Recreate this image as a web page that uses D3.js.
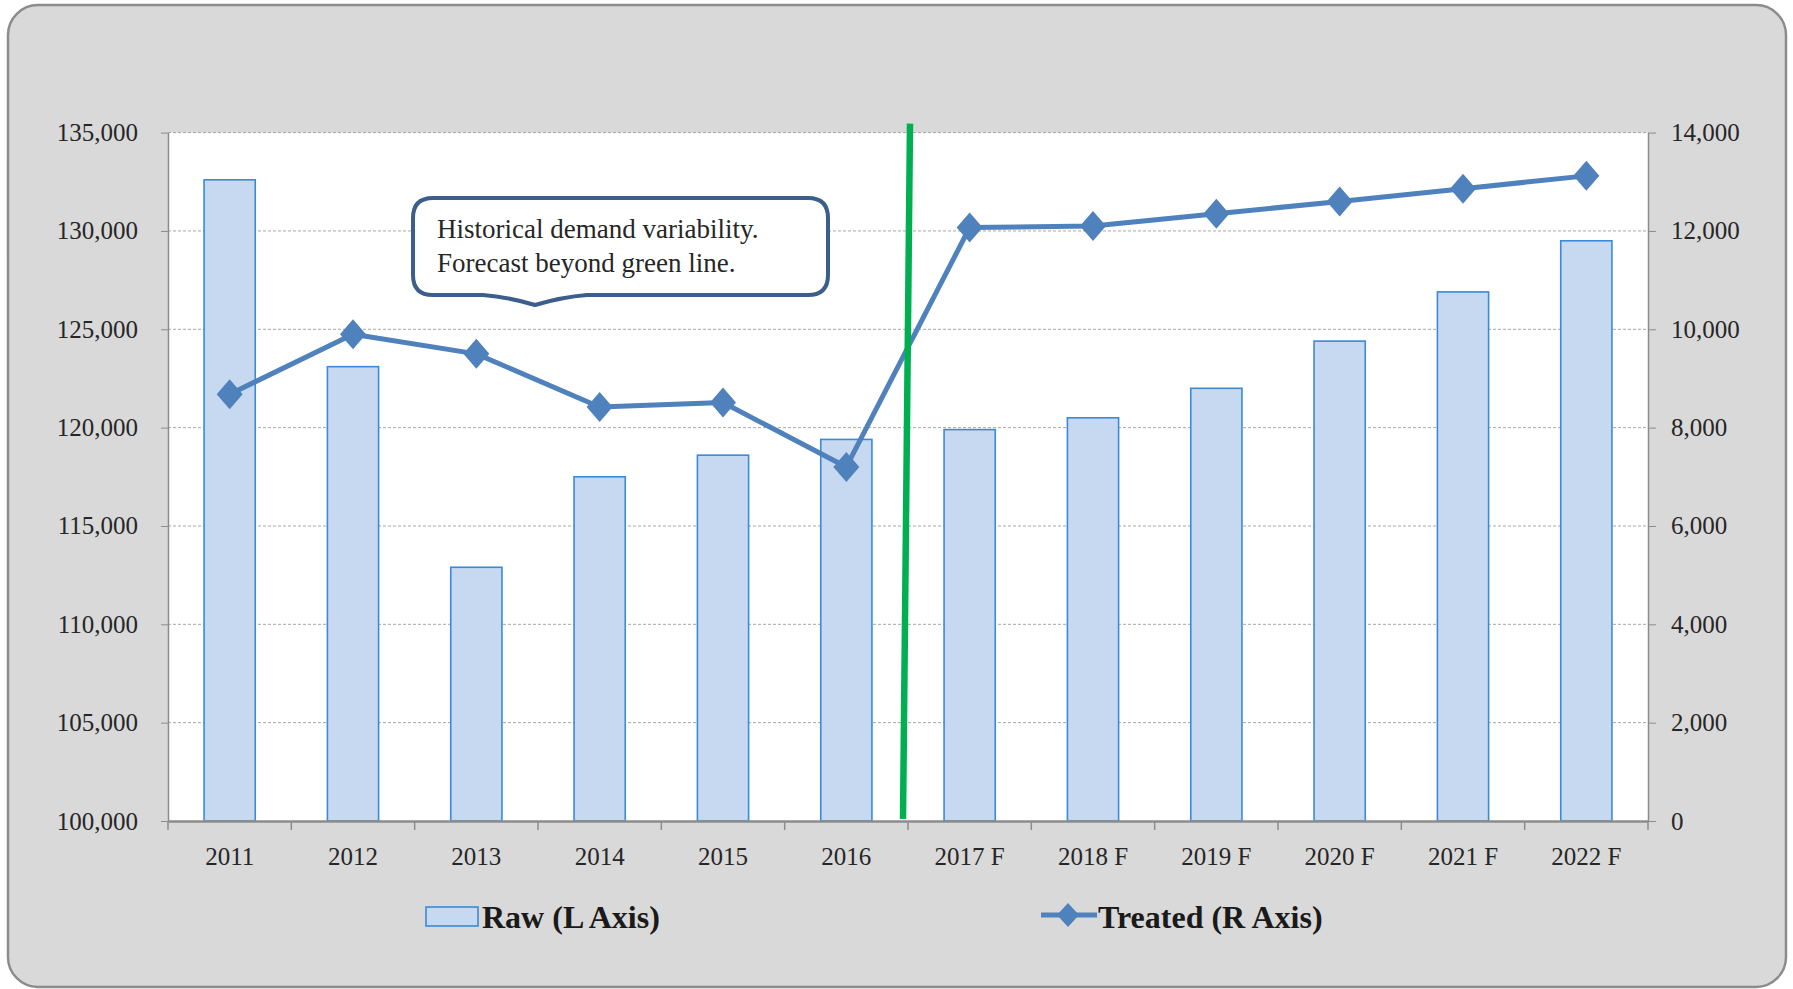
<!DOCTYPE html>
<html>
<head>
    <meta charset="UTF-8">
    <title>Raw vs Treated</title>
    <style>
        body { margin: 0; background: #fff; }
        .axis text { font-family: "Liberation Serif", serif; font-size: 25px; fill: #262626; }
        .axis path, .axis line { stroke: #8c8c8c; }
        .grid line { stroke: #a6a6a6; stroke-width: 1px; stroke-dasharray: 3,2; }
        .bar { fill: #c6d9f0; stroke: #3a8ad8; stroke-width: 1.6px; }
        .treated { fill: none; stroke: #4f81bd; stroke-width: 5px; stroke-linejoin: round; }
        .dot { fill: #4f81bd; }
        .note { font-family: "Liberation Serif", serif; font-size: 27px; fill: #262626; }
        .legend text { font-family: "Liberation Serif", serif; font-size: 32px; font-weight: bold; fill: #1a1a1a; }
    </style>
</head>
<body>
<svg width="1793" height="989"></svg>
<script src="https://cdn.jsdelivr.net/npm/d3@7"></script>
<script>

    // data
    var years = ["2011", "2012", "2013", "2014", "2015", "2016",
        "2017 F", "2018 F", "2019 F", "2020 F", "2021 F", "2022 F"];
    var raw = [132600, 123100, 112900, 117500, 118600, 119400,
        119900, 120500, 122000, 124400, 126900, 129500];
    var treated = [8680, 9900, 9500, 8420, 8510, 7200,
        12070, 12100, 12350, 12600, 12860, 13120];
    var leftTicks = [100000, 105000, 110000, 115000, 120000, 125000, 130000, 135000];
    var rightTicks = [0, 2000, 4000, 6000, 8000, 10000, 12000, 14000];
    var noteLines = ["Historical demand variability.", "Forecast beyond green line."];
    var legendLabels = ["Raw (L Axis)", "Treated (R Axis)"];
    var forecastStart = "2017 F";

    var svg = d3.select("svg");
    var plot = {left: 168, right: 1648, top: 132.6, bottom: 821};

    // outer frame
    svg.append("rect")
            .attr("x", 8).attr("y", 5)
            .attr("width", 1778).attr("height", 982)
            .attr("rx", 30).attr("ry", 30)
            .attr("fill", "#d9d9d9")
            .attr("stroke", "#8c8c8c")
            .attr("stroke-width", 2.5);

    // white plot area
    svg.append("rect")
            .attr("x", plot.left).attr("y", plot.top)
            .attr("width", plot.right - plot.left)
            .attr("height", plot.bottom - plot.top)
            .attr("fill", "#fff");

    // scales
    var x = d3.scaleBand()
            .domain(years)
            .range([plot.left, plot.right]);
    var yL = d3.scaleLinear()
            .domain([100000, 135000])
            .range([plot.bottom, plot.top]);
    var yR = d3.scaleLinear()
            .domain([0, 14000])
            .range([plot.bottom, plot.top]);

    // dashed grid
    svg.append("g")
            .attr("class", "grid")
            .selectAll("line")
            .data(leftTicks.slice(1))
            .enter().append("line")
            .attr("x1", plot.left).attr("x2", plot.right)
            .attr("y1", function (d) { return yL(d); })
            .attr("y2", function (d) { return yL(d); });

    // bars
    var barW = x.bandwidth() * 0.415;
    svg.append("g")
            .selectAll("rect")
            .data(years)
            .enter().append("rect")
            .attr("class", "bar")
            .attr("x", function (d) { return x(d) + (x.bandwidth() - barW) / 2; })
            .attr("y", function (d, i) { return yL(raw[i]); })
            .attr("width", barW)
            .attr("height", function (d, i) { return yL(100000) - yL(raw[i]); });

    // left axis
    svg.append("g")
            .attr("class", "axis axis--left")
            .attr("transform", "translate(" + plot.left + ",0)")
            .call(d3.axisLeft(yL).tickValues(leftTicks).tickFormat(d3.format(","))
                    .tickSizeInner(7).tickSizeOuter(0).tickPadding(23))
            .call(function (g) { g.select(".domain").attr("stroke-width", 1.5); });

    // right axis
    svg.append("g")
            .attr("class", "axis axis--right")
            .attr("transform", "translate(" + plot.right + ",0)")
            .call(d3.axisRight(yR).tickValues(rightTicks).tickFormat(d3.format(","))
                    .tickSizeInner(8).tickSizeOuter(0).tickPadding(15))
            .call(function (g) { g.select(".domain").attr("stroke-width", 1.5); });

    // bottom axis, labels in band centres, ticks on band edges
    var xAxis = svg.append("g")
            .attr("class", "axis axis--x")
            .attr("transform", "translate(0," + plot.bottom + ")")
            .call(d3.axisBottom(x).tickSize(0).tickPadding(0));
    xAxis.select(".domain").attr("stroke-width", 2.5);
    xAxis.selectAll("text").attr("y", 44).attr("dy", 0);
    xAxis.selectAll(".edge")
            .data(years.concat(["end"]))
            .enter().append("line")
            .attr("class", "edge")
            .attr("x1", function (d) { return d === "end" ? plot.right : x(d); })
            .attr("x2", function (d) { return d === "end" ? plot.right : x(d); })
            .attr("y1", 0).attr("y2", 9)
            .attr("stroke-width", 1.5);

    // treated line with diamonds
    var line = d3.line()
            .x(function (d, i) { return x(years[i]) + x.bandwidth() / 2; })
            .y(function (d) { return yR(d); });
    svg.append("path")
            .datum(treated)
            .attr("class", "treated")
            .attr("d", line);

    var diamond = "M0,-15L13,0L0,15L-13,0Z";
    svg.append("g")
            .selectAll("path")
            .data(treated)
            .enter().append("path")
            .attr("class", "dot")
            .attr("d", diamond)
            .attr("transform", function (d, i) {
                return "translate(" + (x(years[i]) + x.bandwidth() / 2) + "," + yR(d) + ")";
            });

    // green divider between history and forecast (drawn over the line)
    var gx = x(forecastStart);
    svg.append("line")
            .attr("x1", gx + 2).attr("y1", plot.top - 9)
            .attr("x2", gx - 5).attr("y2", plot.bottom - 2)
            .attr("stroke", "#00b050")
            .attr("stroke-width", 6.5);

    // callout box
    var bx0 = 413, by0 = 198, bx1 = 828, by1 = 295, r = 20;
    var callout = "M" + (bx0 + r) + "," + by0 +
            "H" + (bx1 - r) + "Q" + bx1 + "," + by0 + " " + bx1 + "," + (by0 + r) +
            "V" + (by1 - r) + "Q" + bx1 + "," + by1 + " " + (bx1 - r) + "," + by1 +
            "H587Q562," + (by1 + 2) + " 535,305Q508," + (by1 + 2) + " 483," + by1 +
            "H" + (bx0 + r) + "Q" + bx0 + "," + by1 + " " + bx0 + "," + (by1 - r) +
            "V" + (by0 + r) + "Q" + bx0 + "," + by0 + " " + (bx0 + r) + "," + by0 + "Z";
    svg.append("path")
            .attr("d", callout)
            .attr("fill", "#fff")
            .attr("stroke", "#3b5e8c")
            .attr("stroke-width", 4);
    svg.append("g")
            .selectAll("text")
            .data(noteLines)
            .enter().append("text")
            .attr("class", "note")
            .attr("x", 437)
            .attr("y", function (d, i) { return 238 + i * 34; })
            .text(function (d) { return d; });

    // legend
    var legend = svg.append("g").attr("class", "legend");
    legend.append("rect")
            .attr("x", 426).attr("y", 907)
            .attr("width", 52).attr("height", 19)
            .attr("class", "bar");
    legend.append("text")
            .attr("x", 482).attr("y", 928)
            .text(legendLabels[0]);
    legend.append("line")
            .attr("x1", 1041).attr("x2", 1097)
            .attr("y1", 915).attr("y2", 915)
            .attr("stroke", "#4f81bd")
            .attr("stroke-width", 5);
    legend.append("path")
            .attr("class", "dot")
            .attr("d", "M0,-12L11,0L0,12L-11,0Z")
            .attr("transform", "translate(1068,915)");
    legend.append("text")
            .attr("x", 1098).attr("y", 928)
            .text(legendLabels[1]);

</script>
</body>
</html>
